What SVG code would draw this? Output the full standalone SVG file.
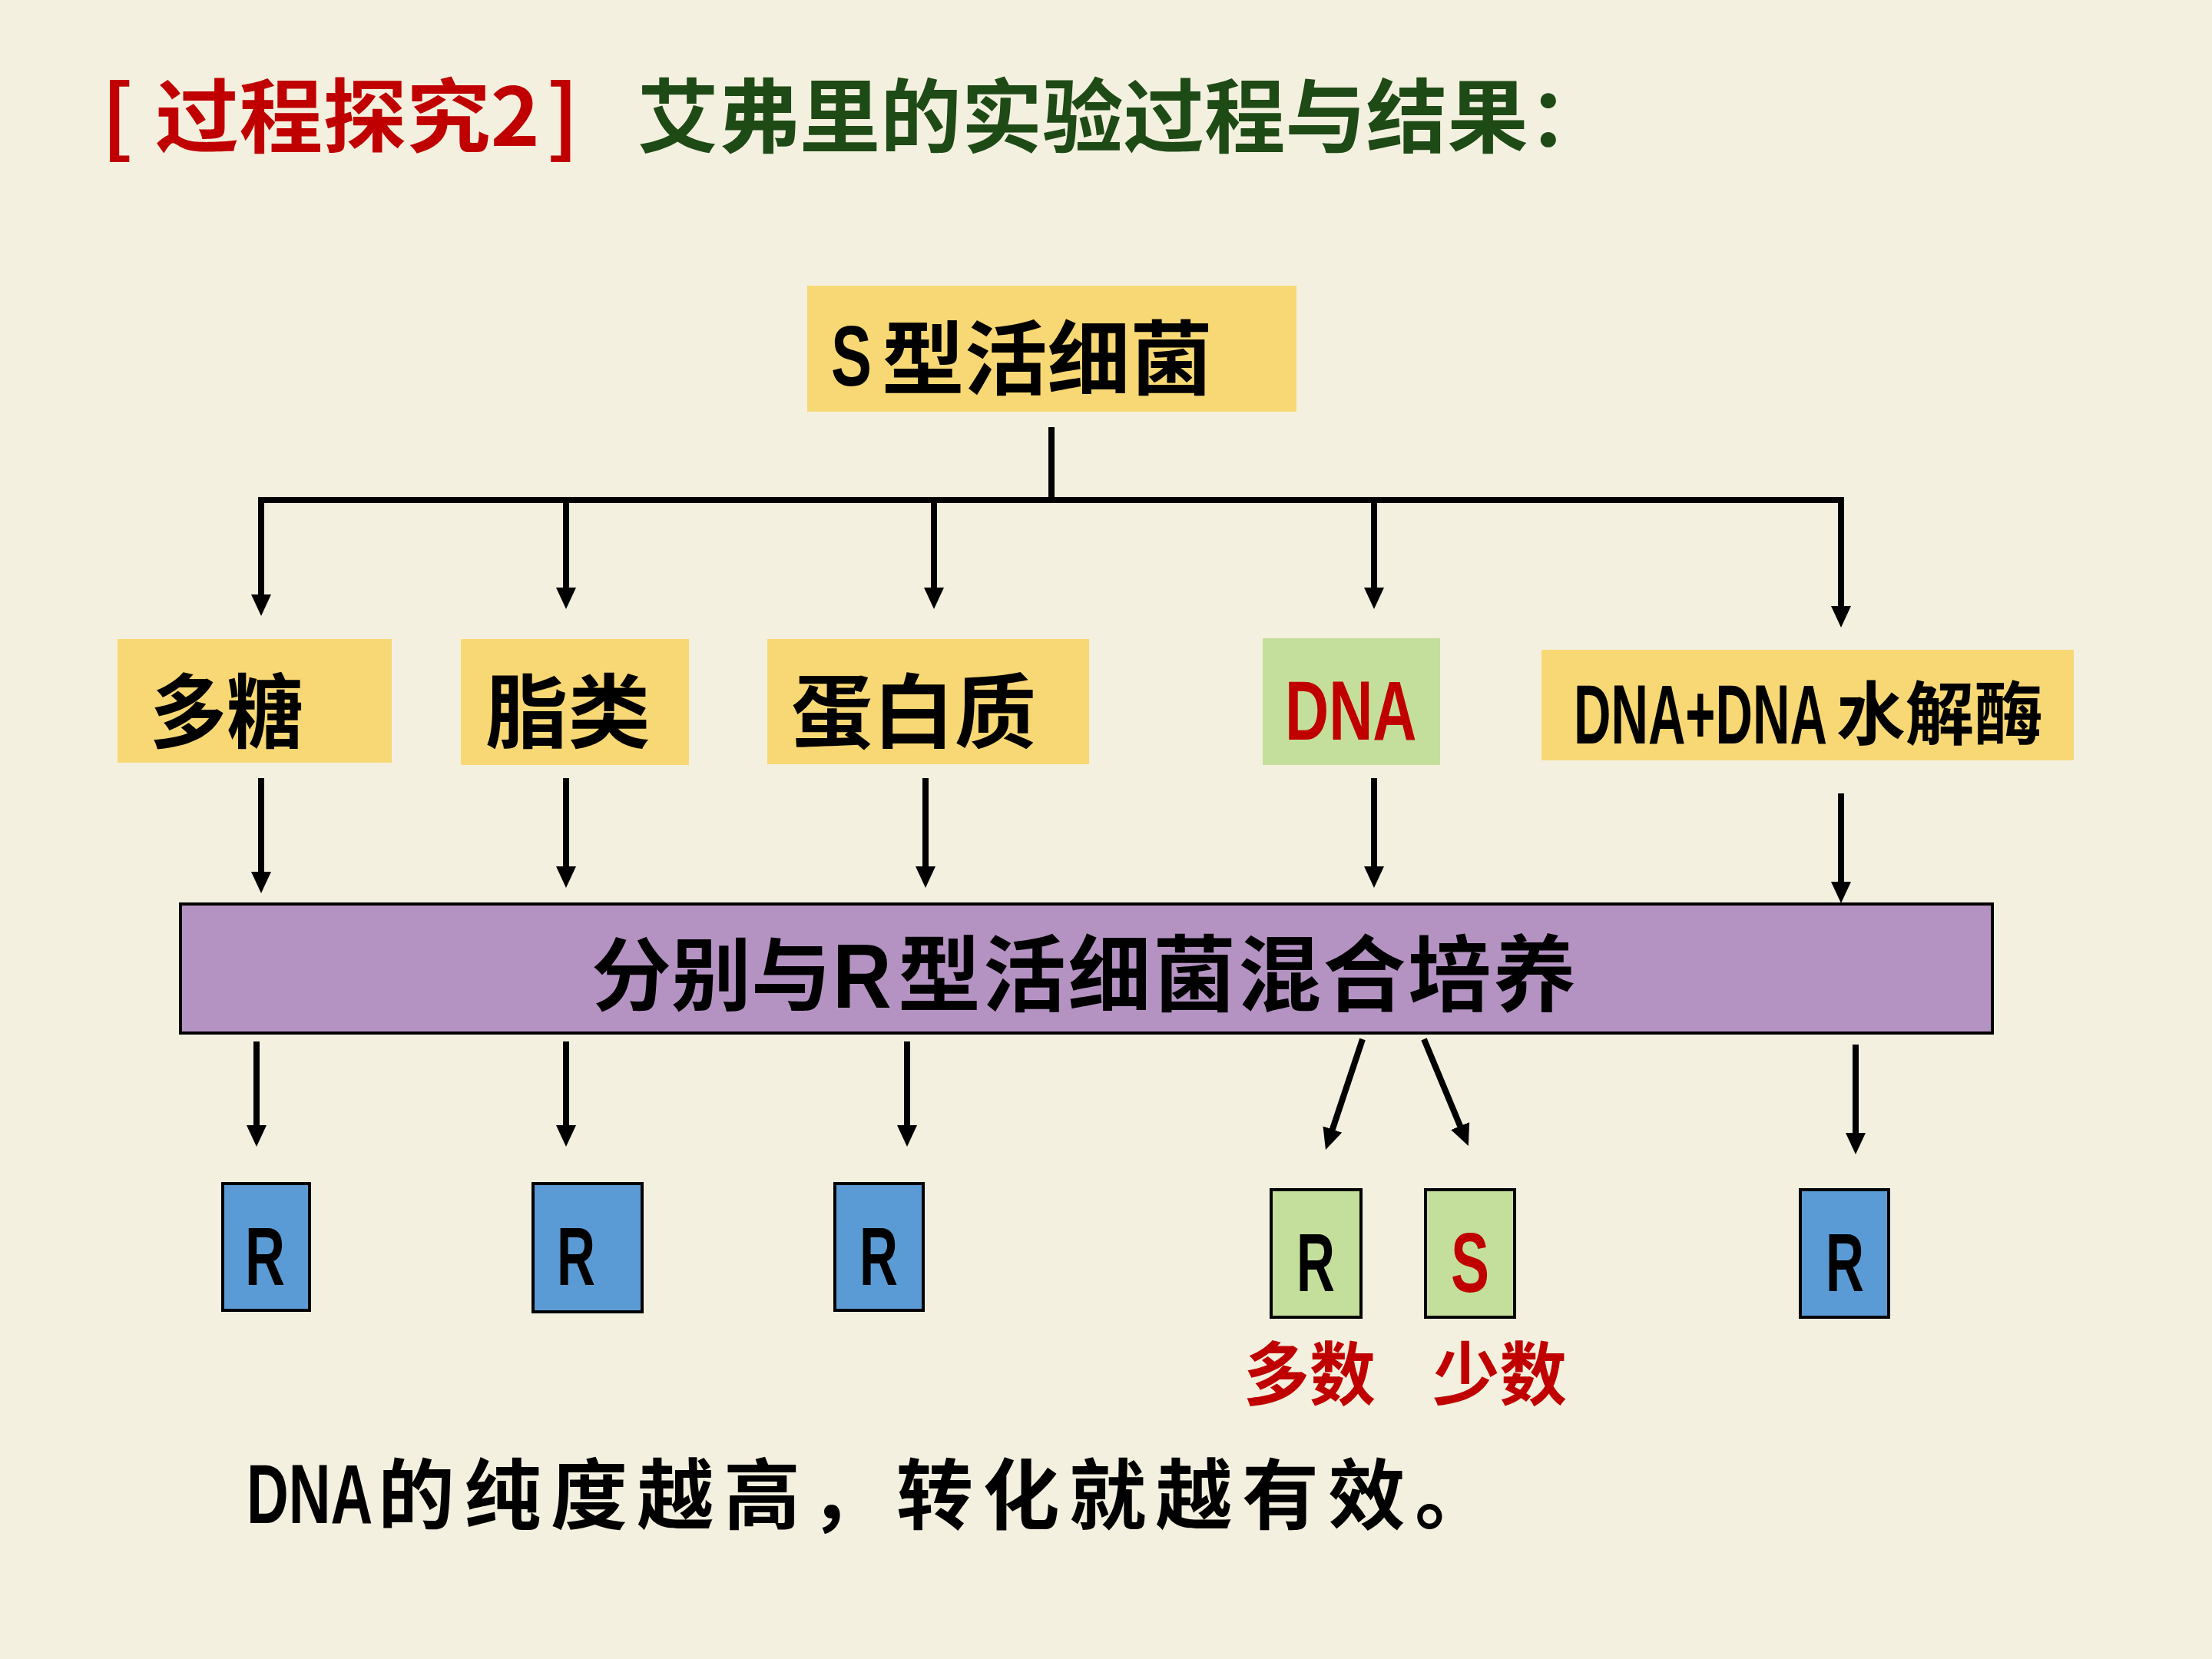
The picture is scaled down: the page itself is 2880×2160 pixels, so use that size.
<svg xmlns="http://www.w3.org/2000/svg" width="2880" height="2160" viewBox="0 0 2880 2160">
<style>
.cjk{font-family:"Noto Sans CJK SC","Noto Sans CJK TC",sans-serif;font-weight:700}
.lat{font-family:"Liberation Sans","DejaVu Sans",sans-serif;font-weight:700}
.yel{fill:#F8D874}
.grn{fill:#C4DF9B}
.blu{fill:#5B9BD5;stroke:#000;stroke-width:4}
.grnb{fill:#C4DF9B;stroke:#000;stroke-width:4}
.conn line,.conn path{stroke:#000;stroke-width:8;fill:none}
</style>
<defs>
<marker id="ah" viewBox="0 0 28 26" refX="8" refY="13" markerWidth="28" markerHeight="26" markerUnits="userSpaceOnUse" orient="auto">
<path d="M0,0 L28,13 L0,26 z" fill="#000"/>
</marker>
</defs>
<rect x="0" y="0" width="2880" height="2160" fill="#F4F0DF"/>

<g id="title">
<text class="cjk" x="132" y="192" font-size="110" fill="#C00000">[</text>
<text class="cjk" x="202" y="190" font-size="105" fill="#C00000" textLength="501" lengthAdjust="spacingAndGlyphs">过程探究2</text>
<text class="cjk" x="712" y="192" font-size="110" fill="#C00000">]</text>
<text class="cjk" x="830" y="190" font-size="105" fill="#1E4A16" textLength="1265" lengthAdjust="spacingAndGlyphs">艾弗里的实验过程与结果：</text>
</g>

<g id="node-s">
<rect class="yel" x="1051" y="372" width="637" height="164"/>
<text class="lat" transform="translate(1082,502) scale(0.71,1)" font-size="112">S</text>
<text class="cjk" x="1148" y="505" font-size="105" textLength="431" lengthAdjust="spacingAndGlyphs">型活细菌</text>
</g>

<g id="node-polysaccharide">
<rect class="yel" x="153" y="832" width="357" height="161"/>
<text class="cjk" x="195" y="965" font-size="105" textLength="200" lengthAdjust="spacingAndGlyphs">多糖</text>
</g>
<g id="node-lipid">
<rect class="yel" x="600" y="832" width="297" height="164"/>
<text class="cjk" x="632" y="965" font-size="105" textLength="215" lengthAdjust="spacingAndGlyphs">脂类</text>
</g>
<g id="node-protein">
<rect class="yel" x="999" y="832" width="419" height="163"/>
<text class="cjk" x="1030" y="965" font-size="105" textLength="319" lengthAdjust="spacingAndGlyphs">蛋白质</text>
</g>
<g id="node-dna">
<rect class="grn" x="1644" y="831" width="231" height="165"/>
<text class="lat" transform="translate(1673,963) scale(0.72,1)" font-size="110" fill="#C00000">DNA</text>
</g>
<g id="node-dnase">
<rect class="yel" x="2007" y="846" width="693" height="144"/>
<text class="lat" transform="translate(2049,968) scale(0.61,1)" font-size="110">DNA+DNA</text>
<text class="cjk" x="2391" y="962" font-size="90" textLength="269" lengthAdjust="spacingAndGlyphs">水解酶</text>
</g>

<g id="node-mix">
<rect x="235" y="1177" width="2359" height="168" fill="#B493C3" stroke="#000" stroke-width="4"/>
<text class="cjk" x="770" y="1308" font-size="104">分别与</text>
<text class="lat" transform="translate(1084,1312) scale(0.9,1)" font-size="118">R</text>
<text class="cjk" x="1169" y="1308" font-size="108" textLength="883" lengthAdjust="spacing">型活细菌混合培养</text>
</g>

<g id="result-1">
<rect class="blu" x="290" y="1541" width="113" height="165"/>
<text class="lat" x="319" y="1673" font-size="108" textLength="52" lengthAdjust="spacingAndGlyphs">R</text>
</g>
<g id="result-2">
<rect class="blu" x="694" y="1541" width="142" height="167"/>
<text class="lat" x="725" y="1673" font-size="108" textLength="50" lengthAdjust="spacingAndGlyphs">R</text>
</g>
<g id="result-3">
<rect class="blu" x="1087" y="1541" width="115" height="165"/>
<text class="lat" x="1119" y="1673" font-size="108" textLength="50" lengthAdjust="spacingAndGlyphs">R</text>
</g>
<g id="result-4r">
<rect class="grnb" x="1655" y="1549" width="117" height="166"/>
<text class="lat" x="1688" y="1681" font-size="108" textLength="50" lengthAdjust="spacingAndGlyphs">R</text>
</g>
<g id="result-4s">
<rect class="grnb" x="1856" y="1549" width="116" height="166"/>
<text class="lat" x="1889" y="1682" font-size="110" fill="#C00000" textLength="50" lengthAdjust="spacingAndGlyphs">S</text>
</g>
<g id="result-5">
<rect class="blu" x="2344" y="1549" width="115" height="166"/>
<text class="lat" x="2377" y="1681" font-size="108" textLength="50" lengthAdjust="spacingAndGlyphs">R</text>
</g>

<g id="labels">
<text class="cjk" x="1619" y="1822" font-size="90" fill="#C00000" textLength="172" lengthAdjust="spacingAndGlyphs">多数</text>
<text class="cjk" x="1865" y="1822" font-size="90" fill="#C00000" textLength="175" lengthAdjust="spacingAndGlyphs">少数</text>
</g>

<g id="conclusion">
<text class="lat" transform="translate(321,1983) scale(0.69,1)" font-size="110">DNA</text>
<text class="cjk" x="492" y="1983" font-size="100" textLength="1450" lengthAdjust="spacing">的纯度越高，转化就越有效。</text>
</g>

<g id="connectors" class="conn">
<line x1="1369" y1="556" x2="1369" y2="651"/>
<line x1="336" y1="651" x2="2401" y2="651"/>
<line x1="340" y1="651" x2="340" y2="782" marker-end="url(#ah)"/>
<line x1="737" y1="651" x2="737" y2="773" marker-end="url(#ah)"/>
<line x1="1216" y1="651" x2="1216" y2="773" marker-end="url(#ah)"/>
<line x1="1789" y1="651" x2="1789" y2="773" marker-end="url(#ah)"/>
<line x1="2397" y1="651" x2="2397" y2="797" marker-end="url(#ah)"/>

<line x1="340" y1="1013" x2="340" y2="1143" marker-end="url(#ah)"/>
<line x1="737" y1="1013" x2="737" y2="1136" marker-end="url(#ah)"/>
<line x1="1205" y1="1013" x2="1205" y2="1136" marker-end="url(#ah)"/>
<line x1="1789" y1="1013" x2="1789" y2="1136" marker-end="url(#ah)"/>
<line x1="2397" y1="1033" x2="2397" y2="1156" marker-end="url(#ah)"/>

<line x1="334" y1="1356" x2="334" y2="1473" marker-end="url(#ah)"/>
<line x1="737" y1="1356" x2="737" y2="1473" marker-end="url(#ah)"/>
<line x1="1181" y1="1356" x2="1181" y2="1473" marker-end="url(#ah)"/>
<line x1="1774" y1="1353" x2="1732.3" y2="1478" marker-end="url(#ah)"/>
<line x1="1854" y1="1353" x2="1904.2" y2="1473.5" marker-end="url(#ah)"/>
<line x1="2416" y1="1360" x2="2416" y2="1483" marker-end="url(#ah)"/>
</g>
</svg>
